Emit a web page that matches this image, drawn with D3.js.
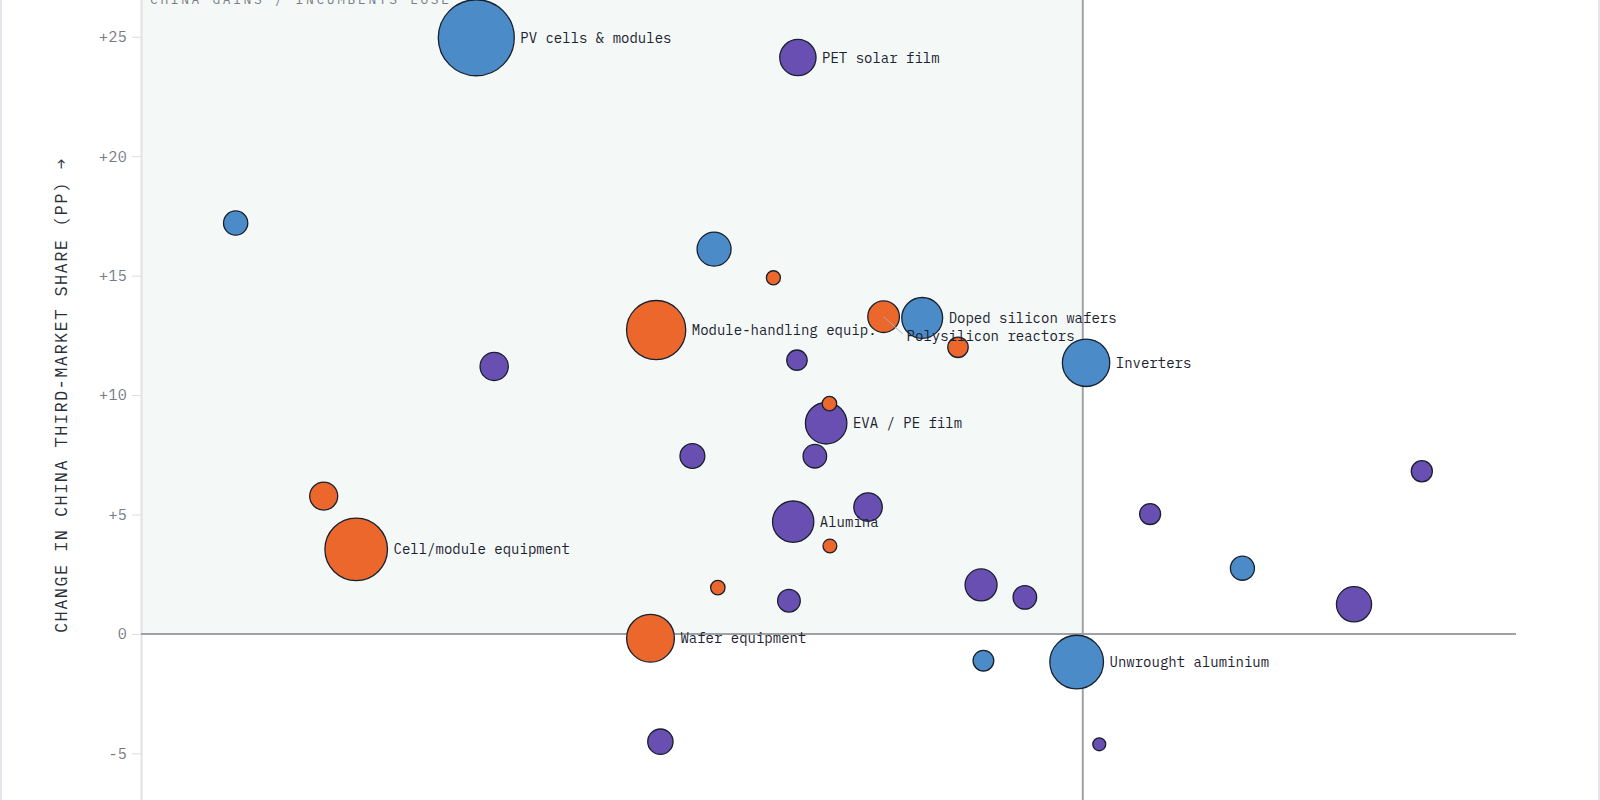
<!DOCTYPE html>
<html>
<head>
<meta charset="utf-8">
<script src="https://cdn.jsdelivr.net/npm/d3@7"></script>
<style>
  html, body { margin: 0; padding: 0; background: #fff; overflow: hidden; }
  #chart { width: 1600px; height: 800px; }
  text { font-family: "IBM Plex Mono", "DejaVu Sans Mono", "Liberation Mono", monospace; }
</style>
</head>
<body>
<div id="chart"></div>
<script>
// change in incumbents' third-market share (pp), x axis
const xChange = [-12.88, -6.05, -17.99, -7.83, -6.57, -9.06, -4.23, -3.41, -2.65, 0.07,
                 -12.50, -6.07, -5.38, -5.45, -8.29, -5.69, -16.12, -4.56, -6.15, -5.37,
                 -15.43, 1.43, 7.20, 3.39, 5.76, -2.16, -1.23, -7.75, -6.24, -9.18,
                 -2.11, -0.13, -8.97, 0.35];
// change in China third-market share (pp), y axis
const yChange = [24.96, 24.13, 17.20, 16.11, 14.91, 12.72, 13.28, 13.23, 12.00, 11.35,
                 11.20, 11.46, 9.64, 8.82, 7.45, 7.44, 5.77, 5.31, 4.70, 3.68,
                 3.54, 5.02, 6.81, 2.75, 1.24, 2.05, 1.53, 1.94, 1.39, -0.18,
                 -1.12, -1.18, -4.51, -4.62];
// bubble size (trade value, indexed)
const tradeSize = [100, 22.8, 10.2, 20.0, 3.4, 60.7, 17.3, 28.9, 7.2, 38.9,
                   13.8, 7.2, 3.6, 29.8, 10.7, 9.6, 13.6, 14.0, 29.5, 3.3,
                   67.8, 7.6, 7.7, 10.0, 21.4, 17.7, 9.6, 3.6, 8.9, 39.5,
                   7.4, 49.9, 11.1, 2.9];
const groups = ["solar", "material", "solar", "solar", "equipment", "equipment", "equipment", "solar", "equipment", "solar",
                "material", "material", "equipment", "material", "material", "material", "equipment", "material", "material", "equipment",
                "equipment", "material", "material", "solar", "material", "material", "material", "equipment", "material", "equipment",
                "solar", "solar", "material", "material"];
const labels = ["PV cells & modules", "PET solar film", "", "", "", "Module-handling equip.", "Polysilicon reactors", "Doped silicon wafers", "", "Inverters",
                "", "", "", "EVA / PE film", "", "", "", "", "Alumina", "",
                "Cell/module equipment", "", "", "", "", "", "", "", "", "Wafer equipment",
                "", "Unwrought aluminium", "", ""];

const groupNames = ["solar", "equipment", "material"];
const groupColors = ["#4b8cc8", "#ec672c", "#6a4fb2"];
const yTicks = [-5, 0, 5, 10, 15, 20, 25];

// labels that sit away from their bubble, with a leader line
const labelNudge = {"Polysilicon reactors": [23, 19]};

const W = 1600, H = 800;
const margin = {top: -11, right: 84, bottom: -25, left: 141};
const innerW = W - margin.left - margin.right;
const innerH = H - margin.top - margin.bottom;

const data = xChange.map((x, i) => ({
    x: x, y: yChange[i], size: tradeSize[i], group: groups[i], label: labels[i]
}));

const svg = d3.select('#chart')
    .append('svg')
    .attr('width', W)
    .attr('height', H);

// page frame
svg.append('line').attr('x1', 1).attr('x2', 1).attr('y1', 0).attr('y2', H)
    .attr('stroke', '#e4e4ea').attr('stroke-width', 2);
svg.append('line').attr('x1', W - 1).attr('x2', W - 1).attr('y1', 0).attr('y2', H)
    .attr('stroke', '#e4e4ea').attr('stroke-width', 2);

const g = svg.append('g')
    .attr('transform', 'translate(' + margin.left + ',' + margin.top + ')');

const x = d3.scaleLinear().domain([-20, 9.2]).range([0, innerW]);
const y = d3.scaleLinear().domain([-8, 27]).range([innerH, 0]);
const r = d3.scaleSqrt().domain([0, 100]).range([0, 38]);
const color = d3.scaleOrdinal().domain(groupNames).range(groupColors);

// quadrant shading: China gains, incumbents lose
g.append('rect')
    .attr('x', 0)
    .attr('y', 0)
    .attr('width', x(0))
    .attr('height', y(0))
    .attr('fill', '#f4f9f7');

g.append('text')
    .attr('x', 9)
    .attr('y', 15)
    .attr('fill', '#7a7d85')
    .attr('font-size', 13)
    .attr('letter-spacing', 2.6)
    .text('CHINA GAINS / INCUMBENTS LOSE');

// y axis
const yAxis = g.append('g')
    .call(d3.axisLeft(y).tickValues(yTicks).tickSize(9).tickPadding(5)
        .tickFormat(d => d > 0 ? '+' + d : String(d)));
yAxis.select('.domain').attr('stroke', '#e2e2e8').attr('stroke-width', 2);
yAxis.selectAll('.tick line').attr('stroke', '#dcdce2');
yAxis.selectAll('.tick text')
    .attr('fill', '#777b84')
    .attr('font-size', 15)
    .attr('letter-spacing', 0.3)
    .style('font-family', '"IBM Plex Mono", "DejaVu Sans Mono", monospace');

g.append('text')
    .attr('transform', 'translate(' + (67 - margin.left) + ',' + (633 - margin.top) + ')rotate(-90)')
    .attr('fill', '#2a2f38')
    .attr('font-size', 17)
    .attr('letter-spacing', 1.4)
    .text('CHANGE IN CHINA THIRD-MARKET SHARE (PP) →');

// zero lines
g.append('line')
    .attr('x1', 0).attr('x2', innerW)
    .attr('y1', y(0)).attr('y2', y(0))
    .attr('stroke', '#9fa1a6').attr('stroke-width', 2);
g.append('line')
    .attr('x1', x(0)).attr('x2', x(0))
    .attr('y1', 0).attr('y2', innerH)
    .attr('stroke', '#9fa1a6').attr('stroke-width', 2);

// bubbles, biggest first so small ones stay on top
const sorted = data.slice().sort((a, b) => b.size - a.size);

g.selectAll('circle.bubble')
    .data(sorted).enter()
    .append('circle')
    .attr('class', 'bubble')
    .attr('cx', d => x(d.x))
    .attr('cy', d => y(d.y))
    .attr('r', d => r(d.size))
    .attr('fill', d => color(d.group))
    .attr('stroke', '#18202e')
    .attr('stroke-width', 1.3);

const labelled = data.filter(d => d.label !== '');

g.selectAll('line.leader')
    .data(labelled.filter(d => labelNudge[d.label])).enter()
    .append('line')
    .attr('class', 'leader')
    .attr('x1', d => x(d.x))
    .attr('y1', d => y(d.y))
    .attr('x2', d => x(d.x) + labelNudge[d.label][0] - 4)
    .attr('y2', d => y(d.y) + labelNudge[d.label][1] - 2)
    .attr('stroke', '#a9abb0')
    .attr('stroke-width', 1);

g.selectAll('text.label')
    .data(labelled).enter()
    .append('text')
    .attr('class', 'label')
    .attr('x', d => labelNudge[d.label] ? x(d.x) + labelNudge[d.label][0] : x(d.x) + r(d.size) + 6)
    .attr('y', d => labelNudge[d.label] ? y(d.y) + labelNudge[d.label][1] : y(d.y))
    .attr('dominant-baseline', 'central')
    .attr('fill', '#1b2230')
    .attr('font-size', 14)
    .text(d => d.label);
</script>
</body>
</html>
